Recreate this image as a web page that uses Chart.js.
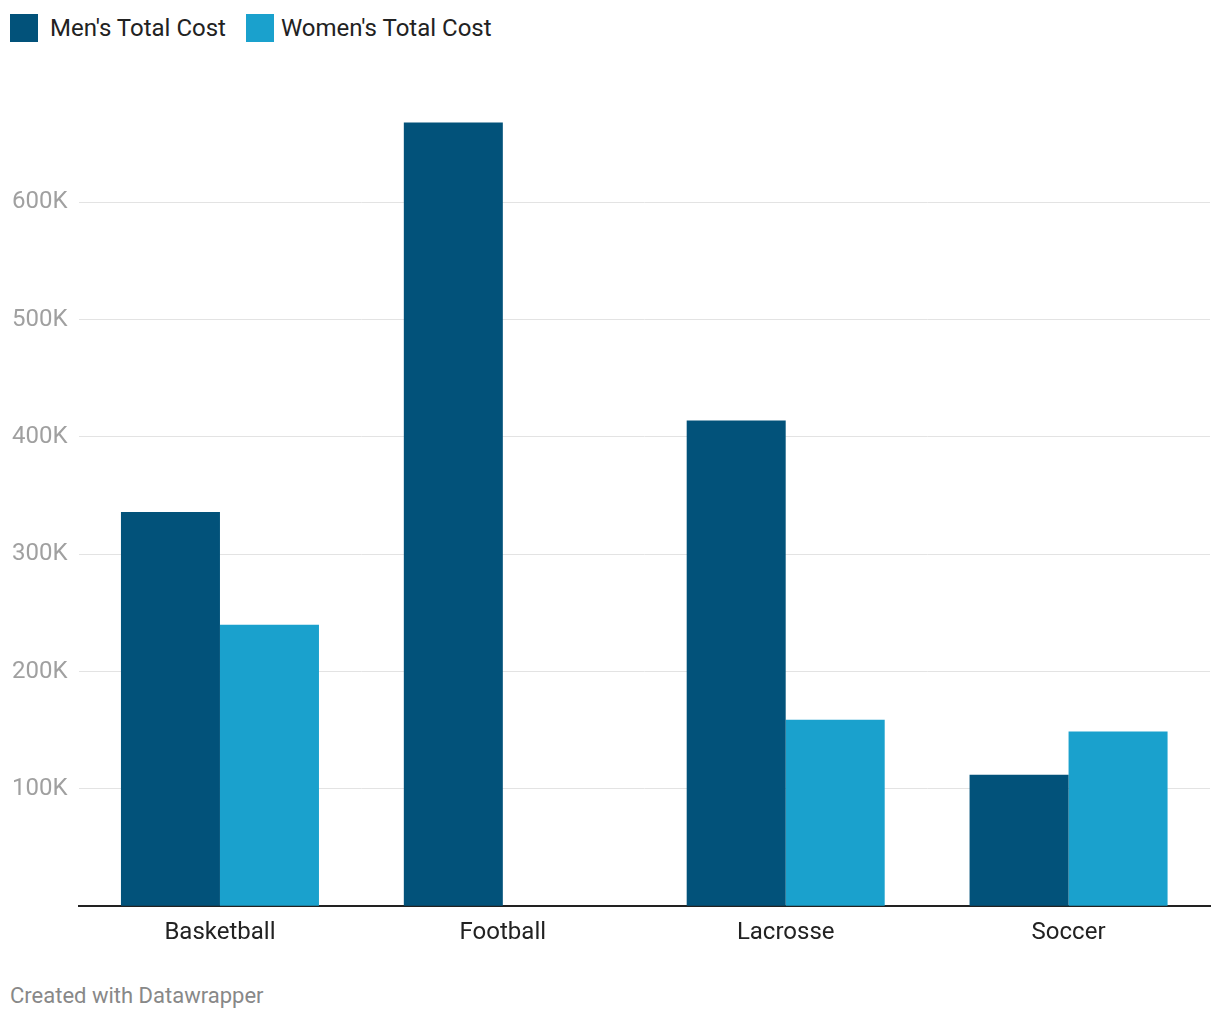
<!DOCTYPE html>
<html>
<head>
<meta charset="utf-8">
<script src="https://cdn.jsdelivr.net/npm/chart.js@4"></script>
<style>
  html, body { margin: 0; padding: 0; background: #fff; }
  body { width: 1220px; height: 1020px; position: relative; overflow: hidden; font-family: Roboto, sans-serif; }
  #legend { position: absolute; left: 10px; top: 14px; display: flex; align-items: center; font-size: 24px; color: #222; }
  .item { display: flex; align-items: center; margin-right: 20px; }
  .box { width: 28px; height: 28px; margin-right: 12px; }
  .item + .item .box { margin-right: 7px; }
  #wrap { position: absolute; left: 0; top: 0; width: 1220px; height: 973px; }
  #footer { position: absolute; left: 10px; top: 983px; font-size: 22px; color: #888; }
</style>
</head>
<body>
<div id="legend"></div>
<div id="wrap"><canvas id="c"></canvas></div>
<div id="footer">Created with Datawrapper</div>
<script>
const categories = ["Basketball", "Football", "Lacrosse", "Soccer"];
const seriesNames = ["Men's Total Cost", "Women's Total Cost"];
const mensCost = [336000, 668000, 414000, 112000];
const womensCost = [240000, null, 159000, 149000];
const yTicks = [100000, 200000, 300000, 400000, 500000, 600000];
const colors = ["#02527a", "#1aa1cd"];

const legend = document.getElementById('legend');
seriesNames.forEach((n, i) => {
  const it = document.createElement('div'); it.className = 'item';
  const b = document.createElement('div'); b.className = 'box'; b.style.background = colors[i];
  const t = document.createElement('span'); t.textContent = n;
  it.appendChild(b); it.appendChild(t); legend.appendChild(it);
});

new Chart(document.getElementById('c'), {
  type: 'bar',
  data: {
    labels: categories,
    datasets: [
      { label: seriesNames[0], data: mensCost, backgroundColor: colors[0], categoryPercentage: 0.7, barPercentage: 1.0 },
      { label: seriesNames[1], data: womensCost, backgroundColor: colors[1], categoryPercentage: 0.7, barPercentage: 1.0 }
    ]
  },
  options: {
    responsive: true,
    maintainAspectRatio: false,
    animation: false,
    layout: { padding: { top: 85, left: 1, right: 10, bottom: 14 } },
    plugins: { legend: { display: false }, tooltip: { enabled: false } },
    scales: {
      x: {
        grid: { display: false, drawTicks: false },
        border: { display: true, color: '#222', width: 2 },
        ticks: { color: '#222', font: { family: 'Roboto', size: 24 }, padding: 12 }
      },
      y: {
        min: 0, max: 700000,
        afterBuildTicks: (axis) => { axis.ticks = [0].concat(yTicks).concat([700000]).map(v => ({ value: v })); },
        grid: {
          drawTicks: false,
          color: (ctx) => (ctx.tick && (ctx.tick.value === 0 || ctx.tick.value === 700000)) ? 'rgba(0,0,0,0)' : '#e3e3e3',
          lineWidth: 1
        },
        border: { display: false },
        ticks: {
          color: '#a0a0a0', font: { family: 'Roboto', size: 24 }, padding: 11,
          callback: (v) => (yTicks.includes(v) ? (v / 1000) + 'K' : '')
        }
      }
    }
  }
});
</script>
</body>
</html>
